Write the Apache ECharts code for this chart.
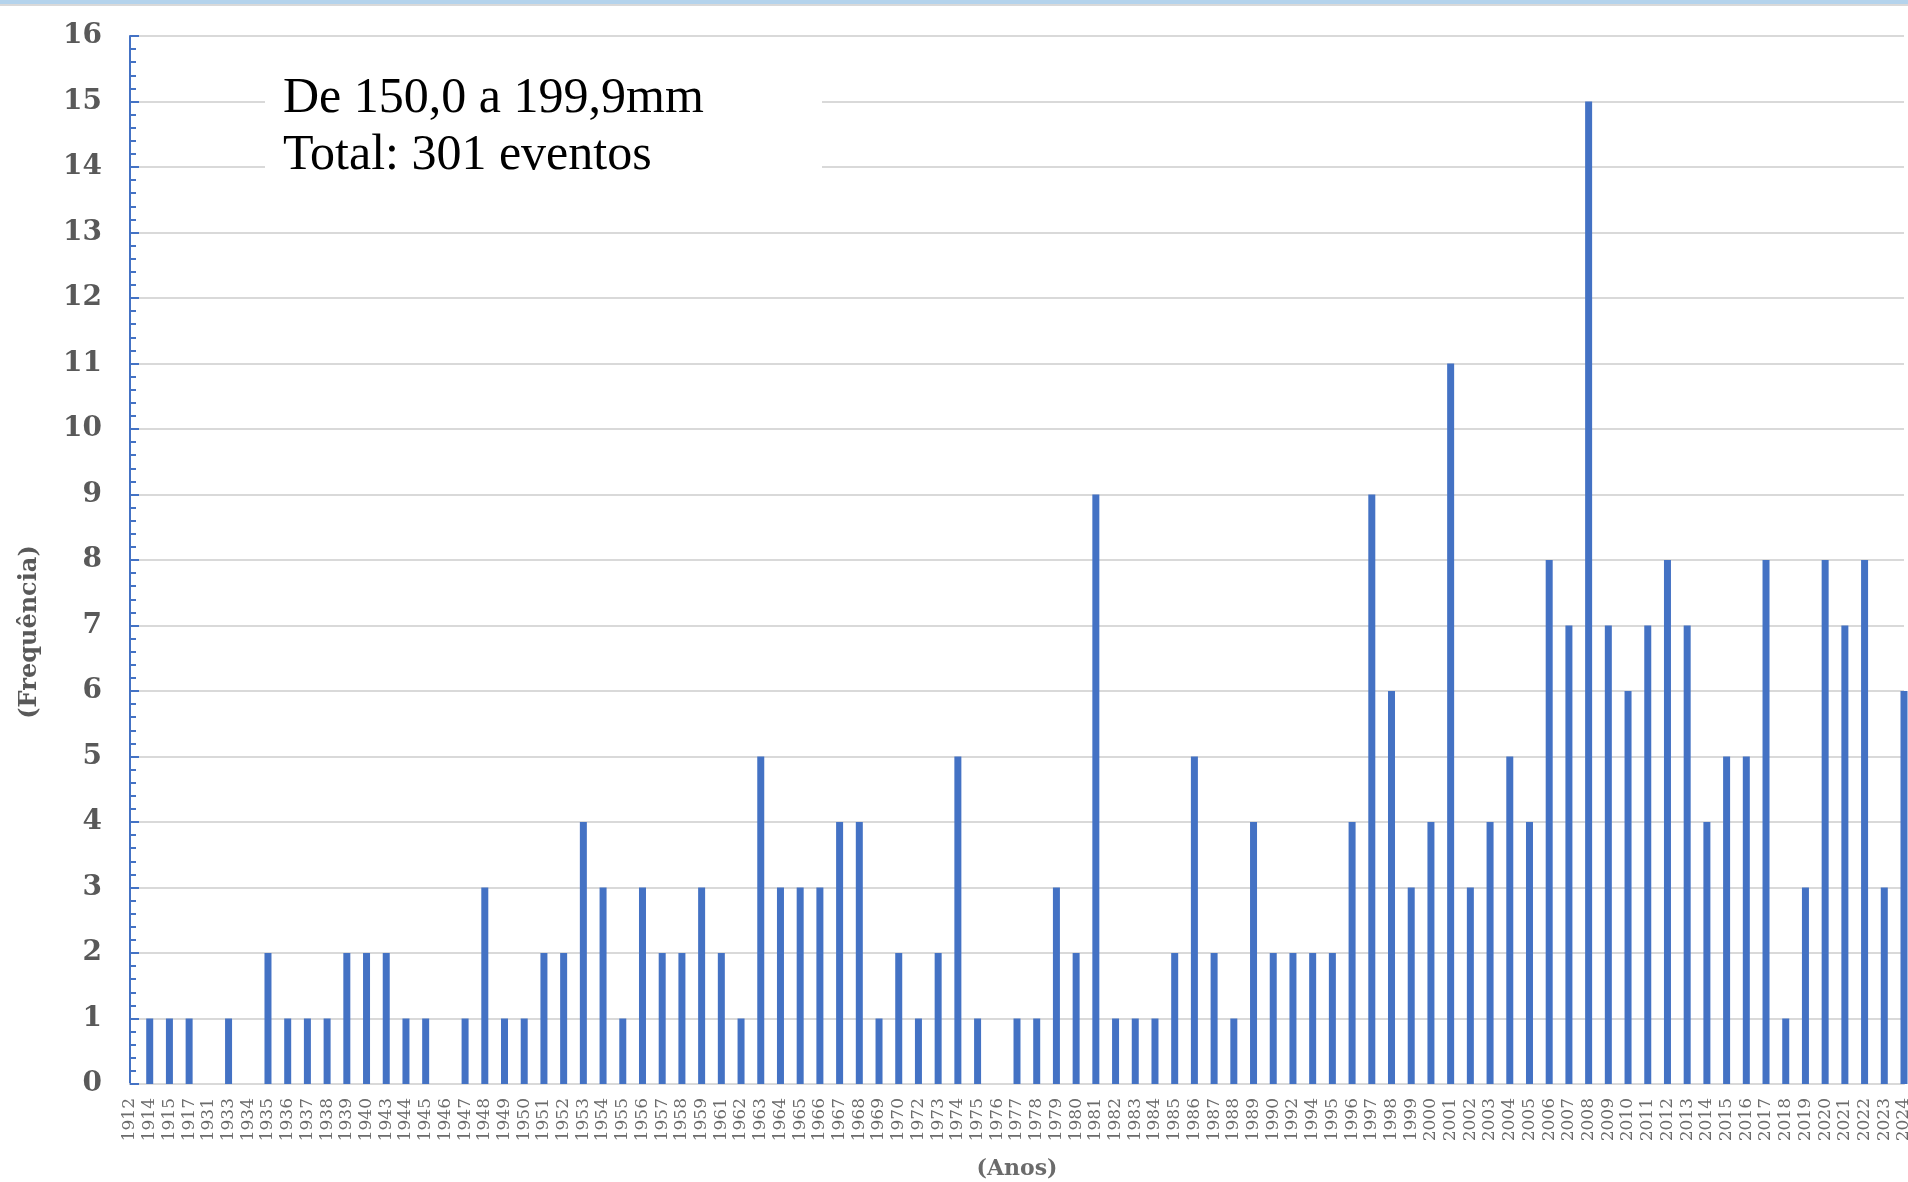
<!DOCTYPE html>
<html>
<head>
  <meta charset="UTF-8">
  <script src="https://cdnjs.cloudflare.com/ajax/libs/echarts/6.0.0/echarts.min.js"></script>
  <title></title>
  <style>
    html, body { margin: 0; padding: 0; background: #fff; }
    #chart { width: 1908px; height: 1182px; }
  </style>
</head>
<body>
  <div id="chart"></div>
  <script>
  // years present in the series (same list across all rain classes, hence the zeros)
  const anos = ['1912','1914','1915','1917','1931','1933','1934','1935','1936','1937',
    '1938','1939','1940','1943','1944','1945','1946','1947','1948','1949',
    '1950','1951','1952','1953','1954','1955','1956','1957','1958','1959',
    '1961','1962','1963','1964','1965','1966','1967','1968','1969','1970',
    '1972','1973','1974','1975','1976','1977','1978','1979','1980','1981',
    '1982','1983','1984','1985','1986','1987','1988','1989','1990','1992',
    '1994','1995','1996','1997','1998','1999','2000','2001','2002','2003',
    '2004','2005','2006','2007','2008','2009','2010','2011','2012','2013',
    '2014','2015','2016','2017','2018','2019','2020','2021','2022','2023','2024'];
  const frequencia = [0,1,1,1,0,1,0,2,1,1,
    1,2,2,2,1,1,0,1,3,1,
    1,2,2,4,3,1,3,2,2,3,
    2,1,5,3,3,3,4,4,1,2,
    1,2,5,1,0,1,1,3,2,9,
    1,1,1,2,5,2,1,4,2,2,
    2,2,4,9,6,3,4,11,3,4,
    5,4,8,7,15,7,6,7,8,7,
    4,5,5,8,1,3,8,7,8,3,6];
  const faixa = 'De 150,0 a 199,9mm';
  const total = 'Total: 301 eventos';

  const chart = echarts.init(document.getElementById('chart'));
  chart.setOption({
    animation: false,
    grid: { left: 130, right: 4, top: 36, bottom: 98, outerBoundsMode: 'none', containLabel: false },
    xAxis: {
      type: 'category',
      data: anos,
      boundaryGap: false,
      axisLine: { lineStyle: { color: '#d9d9d9', width: 2 } },
      axisTick: { show: false },
      axisLabel: {
        interval: 0, rotate: 90, margin: 14,
        fontFamily: 'DejaVu Serif', fontSize: 17, color: '#6b6b6b'
      },
      name: '(Anos)',
      nameLocation: 'middle',
      nameGap: 74,
      nameTextStyle: { fontFamily: 'DejaVu Serif', fontWeight: 'bold', fontSize: 22, color: '#6b6b6b' }
    },
    yAxis: {
      type: 'value',
      min: 0, max: 16, interval: 1,
      axisLine: { show: true, lineStyle: { color: '#4472C4', width: 2 } },
      axisTick: { show: true, inside: true, length: 9, lineStyle: { color: '#4472C4', width: 2 } },
      minorTick: { show: true, splitNumber: 5, length: 6, lineStyle: { color: '#4472C4', width: 2 } },
      axisLabel: {
        margin: 28,
        fontFamily: 'DejaVu Serif', fontWeight: 'bold', fontSize: 28, color: '#595959'
      },
      splitLine: { lineStyle: { color: '#d9d9d9', width: 2 } }
    },
    series: [{
      type: 'bar',
      data: frequencia,
      barWidth: 7,
      clip: true,
      itemStyle: { color: '#4472C4' }
    }],
    graphic: [
      { type: 'rect', z: 0, shape: { x: 0, y: 0, width: 1908, height: 4 }, style: { fill: '#b4d3ec' } },
      { type: 'rect', z: 0, shape: { x: 0, y: 4, width: 1908, height: 2 }, style: { fill: '#d9d9d9' } },
      { type: 'rect', z: 50, shape: { x: 265, y: 55, width: 557, height: 135 }, style: { fill: '#fff' } },
      { type: 'text', z: 51, x: 283, y: 99,
        style: { text: faixa, font: '50px "Liberation Serif"', fill: '#000', textVerticalAlign: 'middle' } },
      { type: 'text', z: 51, x: 283, y: 156,
        style: { text: total, font: '50px "Liberation Serif"', fill: '#000', textVerticalAlign: 'middle' } },
      { type: 'text', z: 51, x: 30, y: 632, rotation: Math.PI / 2,
        style: { text: '(Frequência)', font: 'bold 24px "DejaVu Serif"', fill: '#595959',
                 textAlign: 'center', textVerticalAlign: 'middle' } }
    ]
  });
  </script>
</body>
</html>
